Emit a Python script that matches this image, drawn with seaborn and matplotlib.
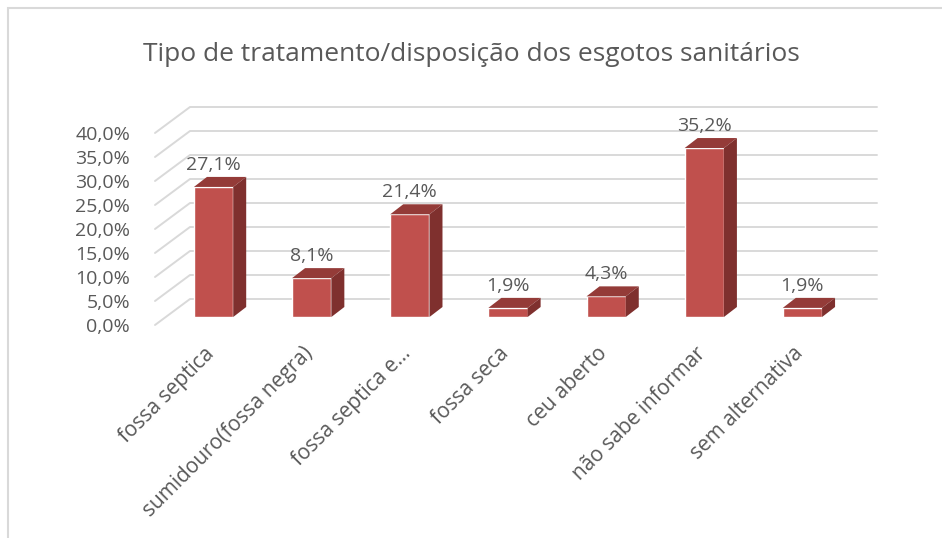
import matplotlib
matplotlib.use("Agg")
import matplotlib.pyplot as plt
from matplotlib.patches import Polygon, Rectangle
import seaborn as sns

# dados do grafico (percentuais)
categorias = ["fossa septica", "sumidouro(fossa negra)", "fossa septica e...",
              "fossa seca", "ceu aberto", "não sabe informar", "sem alternativa"]
valores = [27.1, 8.1, 21.4, 1.9, 4.3, 35.2, 1.9]
yticks = [0, 5, 10, 15, 20, 25, 30, 35, 40]
titulo = "Tipo de tratamento/disposição dos esgotos sanitários"

cor_frente = "#C0504D"
cor_lado = "#7F302E"
cor_topo = "#943B38"
cor_texto = "#595959"
cor_grade = "#D9D9D9"

sns.set_theme(style="white")
plt.rcParams["font.family"] = ["Open Sans", "DejaVu Sans"]

W, H = 942, 538
fig = plt.figure(figsize=(W / 100, H / 100), dpi=100)
fig.patch.set_facecolor("white")

# moldura cinza (cortada a direita e embaixo)
fig.patches.append(Rectangle((8 / W, -0.1), 1.2, 1.1 - 8 / H, transform=fig.transFigure,
                             fill=False, ec=cor_grade, lw=1.5))
# cabecalho cortado no topo
fig.text(127 / W, 1 - 4 / H, "Arenas - PB", ha="right", va="bottom",
         fontsize=12, fontweight="bold", color="black", family="DejaVu Serif")

ax = fig.add_axes([155 / W, (H - 325) / H, (842 - 155) / W, (325 - 133) / H])
sns.barplot(x=categorias, y=valores, color=cor_frente, width=0.4, saturation=1,
            ax=ax, zorder=3)
ax.set_xlim(-0.5, len(categorias) - 0.5)
ax.set_ylim(0, 40)
for s in ax.spines.values():
    s.set_visible(False)
ax.set_facecolor("none")

# pixels por unidade de dados
p0 = ax.transData.transform((0, 0))
p1 = ax.transData.transform((1, 1))
px_x, px_y = p1[0] - p0[0], p1[1] - p0[1]

# parede lateral e grade do fundo
bx, by = 35 / px_x, 26 / px_y
x0, x1 = -0.5, len(categorias) - 0.5
for v in yticks:
    ax.plot([x0, x0 + bx, x1 + bx], [v, v + by, v + by], color=cor_grade,
            lw=1.4, clip_on=False, zorder=1)

# barras 3d: desloca a frente e desenha topo e lado
sx, sy = 9.5 / px_x, 8 / px_y
dx, dy = 13 / px_x, 10 / px_y
for bar, v in zip(ax.patches, valores):
    bar.set_x(bar.get_x() + sx)
    bar.set_y(sy)
    bar.set_clip_on(False)
    xa = bar.get_x()
    xb = xa + bar.get_width()
    ya, yb = sy, sy + v
    ax.add_patch(Polygon([(xa, yb), (xb, yb), (xb + dx, yb + dy), (xa + dx, yb + dy)],
                         closed=True, fc=cor_topo, ec="none", zorder=3, clip_on=False))
    ax.add_patch(Polygon([(xb, ya), (xb + dx, ya + dy), (xb + dx, yb + dy), (xb, yb)],
                         closed=True, fc=cor_lado, ec="none", zorder=3, clip_on=False))
    ax.text((xa + xb) / 2, yb + dy + 7 / px_y, f"{v:.1f}%".replace(".", ","),
            ha="center", va="baseline", fontsize=14, color=cor_texto, zorder=4)

ax.set_yticks(yticks)
ax.set_yticklabels([f"{v:.1f}%".replace(".", ",") for v in yticks])
ax.set_xticks(range(len(categorias)))
ax.set_xticklabels(categorias, rotation=45, ha="right", rotation_mode="anchor")
ax.tick_params(axis="both", length=0, labelsize=14, labelcolor=cor_texto)
ax.tick_params(axis="x", labelsize=15, pad=13)
ax.tick_params(axis="y", pad=18)
ax.set_xlabel("")
ax.set_ylabel("")

fig.text(471 / W, 1 - 55 / H, titulo, ha="center", va="center",
         fontsize=19, color=cor_texto)

fig.savefig("out.png", dpi=100)
